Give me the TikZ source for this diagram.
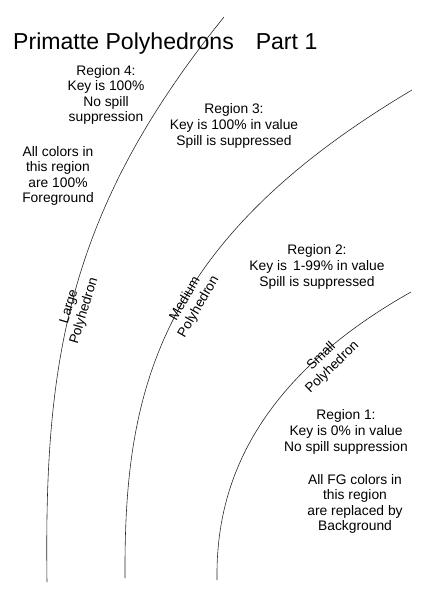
\documentclass[tikz,border=0pt]{standalone}
\usepackage{fontspec}
\setmainfont{Liberation Sans}
\usepackage{tikz}
\usetikzlibrary{positioning,calc}

\tikzset{
	regiontext/.style={align=center, font=\fontsize{11.8}{13.3}\selectfont, inner sep=0pt},
	curvetext/.style={align=center, font=\fontsize{11.5}{13.3}\selectfont, inner sep=0pt},
	boundary/.style={line width=0.5pt, black!85}
}

\begin{document}
\begin{tikzpicture}[x=0.03cm, y=-0.03cm]
	\useasboundingbox (0,0) rectangle (424,599);

	\coordinate (LARGETOP) at (224, 17);
	\coordinate (LARGEEND) at (47, 582);
	\coordinate (MEDIUMTOP) at (412, 90);
	\coordinate (MEDIUMEND) at (125, 578);
	\coordinate (SMALLTOP) at (411, 292);
	\coordinate (SMALLEND) at (217, 580);

	% the three polyhedron boundaries
	\draw[boundary] (LARGETOP) .. controls (66.5, 212) and (44, 362) .. (LARGEEND);
	\draw[boundary] (MEDIUMTOP) .. controls (154, 243) and (124, 396) .. (MEDIUMEND);
	\draw[boundary] (SMALLTOP) .. controls (237, 390) and (216, 506) .. (SMALLEND);

	\node[anchor=base west, inner sep=0pt, font=\fontsize{19.7}{24}\selectfont] (TITLE) at (13, 50) {Primatte Polyhedrons\hspace{0.95em}Part 1};

	\node[regiontext] (R4) at (106, 95) {Region 4:\\Key is 100\%\\No spill\\suppression};
	\node[regiontext] (R4NOTE) at (58, 176) {All colors in\\this region\\are 100\%\\Foreground};
	\node[regiontext] (R3) at (234, 126) {Region 3:\\Key is 100\% in value\\Spill is suppressed};
	\node[regiontext] (R2) at (317, 267) {Region 2:\\Key is\, 1-99\% in value\\Spill is suppressed};
	\node[regiontext] (R1) at (346, 432) {Region 1:\\Key is 0\% in value\\No spill suppression};
	\node[regiontext] (R1NOTE) at (355, 504) {All FG colors in\\this region\\are replaced by\\Background};

	\node[curvetext, rotate=73] (LARGE) at (77, 309) {Large\\Polyhedron};
	\node[curvetext, rotate=60] (MEDIUM) at (192, 303) {Medium\\Polyhedron};
	\node[curvetext, rotate=44] (SMALL) at (327, 362) {Small\\Polyhedron};
\end{tikzpicture}
\end{document}
